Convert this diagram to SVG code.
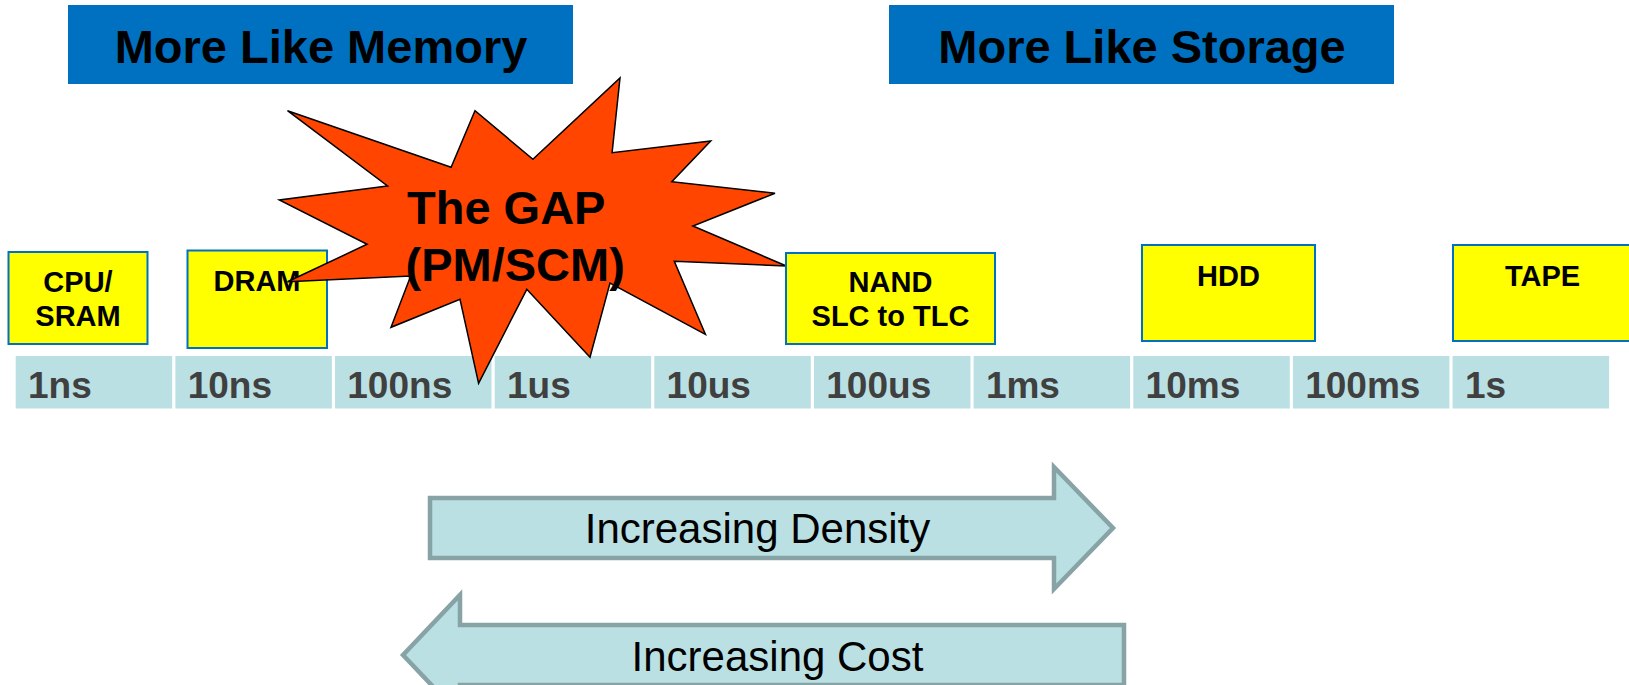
<svg xmlns="http://www.w3.org/2000/svg" width="1629" height="685" viewBox="0 0 1629 685">
<style>
.cell{fill:#BAE0E3}
.cellt{font-family:"Liberation Sans",Arial,sans-serif;font-weight:bold;font-size:37px;fill:#404040}
.ybox{fill:#FFFF00;stroke:#0070C0;stroke-width:2}
.yt{font-family:"Liberation Sans",Arial,sans-serif;font-weight:bold;font-size:29px;fill:#000;text-anchor:middle}
.bbox{fill:#0070C0}
.bt{font-family:"Liberation Sans",Arial,sans-serif;font-weight:bold;font-size:47px;fill:#000;text-anchor:middle}
.arr{fill:#BAE0E3;stroke:#88A3A5;stroke-width:4.5;stroke-linejoin:miter}
.at{font-family:"Liberation Sans",Arial,sans-serif;font-size:42px;fill:#000;text-anchor:middle}
</style>
<rect width="1629" height="685" fill="#FFFFFF"/>
<g id="timeline">
<g id="cell-1ns"><rect class="cell" x="15.7" y="356" width="156.5" height="52.5"/><text class="cellt" x="28" y="398">1ns</text></g>
<g id="cell-10ns"><rect class="cell" x="175.4" y="356" width="156.5" height="52.5"/><text class="cellt" x="187.7" y="398">10ns</text></g>
<g id="cell-100ns"><rect class="cell" x="335" y="356" width="156.5" height="52.5"/><text class="cellt" x="347.3" y="398">100ns</text></g>
<g id="cell-1us"><rect class="cell" x="494.7" y="356" width="156.5" height="52.5"/><text class="cellt" x="507" y="398">1us</text></g>
<g id="cell-10us"><rect class="cell" x="654.3" y="356" width="156.5" height="52.5"/><text class="cellt" x="666.6" y="398">10us</text></g>
<g id="cell-100us"><rect class="cell" x="814" y="356" width="156.5" height="52.5"/><text class="cellt" x="826.3" y="398">100us</text></g>
<g id="cell-1ms"><rect class="cell" x="973.6" y="356" width="156.5" height="52.5"/><text class="cellt" x="985.9" y="398">1ms</text></g>
<g id="cell-10ms"><rect class="cell" x="1133.3" y="356" width="156.5" height="52.5"/><text class="cellt" x="1145.6" y="398">10ms</text></g>
<g id="cell-100ms"><rect class="cell" x="1292.9" y="356" width="156.5" height="52.5"/><text class="cellt" x="1305.2" y="398">100ms</text></g>
<g id="cell-1s"><rect class="cell" x="1452.6" y="356" width="156.5" height="52.5"/><text class="cellt" x="1464.9" y="398">1s</text></g>
</g>
<g id="cpu-sram"><rect class="ybox" x="8.5" y="252" width="139" height="92"/><text class="yt" x="78" y="291.5">CPU/</text><text class="yt" x="78" y="326">SRAM</text></g>
<g id="dram"><rect class="ybox" x="187.5" y="250.5" width="139.5" height="97.5"/><text class="yt" x="257" y="291">DRAM</text></g>
<g id="the-gap">
<polygon points="287.5,110.7 451.1,167.3 475,110.7 532.9,159.3 620,78 612.1,152.7 710.7,141 671.8,181.7 775,193.3 692.9,226 786.4,266 674.3,261.3 705.4,334.3 610,283 590,357.3 526.8,289.3 478.6,383.3 460,299.3 391,327.3 410.7,276 287.5,281.7 367.1,244.3 279.3,200 387.5,186" fill="#FF4500" stroke="#000" stroke-width="1.5" stroke-linejoin="miter"/>
<text class="bt" style="text-anchor:start" x="407" y="224">The GAP</text>
<text class="bt" style="text-anchor:start" x="405.5" y="281">(PM/SCM)</text>
</g>
<g id="nand"><rect class="ybox" x="786" y="253" width="209" height="91"/><text class="yt" x="890.5" y="291.5">NAND</text><text class="yt" x="890.5" y="326">SLC to TLC</text></g>
<g id="hdd"><rect class="ybox" x="1142" y="245" width="173" height="96"/><text class="yt" x="1228.5" y="286">HDD</text></g>
<g id="tape"><rect class="ybox" x="1453" y="245" width="182" height="96"/><text class="yt" x="1542.5" y="286">TAPE</text></g>
<g id="more-like-memory"><rect class="bbox" x="68" y="5" width="505" height="79"/><text class="bt" x="321" y="63">More Like Memory</text></g>
<g id="more-like-storage"><rect class="bbox" x="889" y="5" width="505" height="79"/><text class="bt" x="1142" y="63">More Like Storage</text></g>
<g id="connectors">
<g id="increasing-density"><path class="arr" d="M430,498 H1054 V467 L1113,528 L1054,589 V558 H430 Z"/><text class="at" x="757.5" y="543">Increasing Density</text></g>
<g id="increasing-cost"><path class="arr" d="M403,655 L460,595 V625 H1124 V685 H460 V715 Z"/><text class="at" x="777.5" y="671">Increasing Cost</text></g>
</g>
</svg>
